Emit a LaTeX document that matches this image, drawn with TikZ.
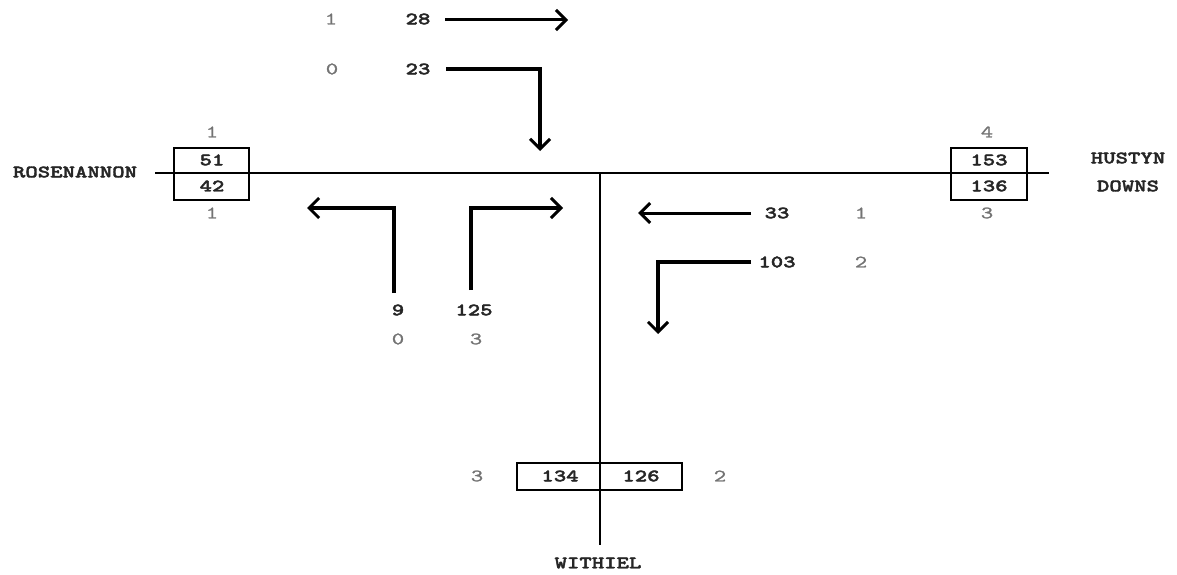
\documentclass[tikz,border=0pt]{standalone}
\usepackage{fontspec}
\usetikzlibrary{arrows.meta}
\newfontfamily\numfont{lmmonolt10-bold}[Extension=.otf,FakeStretch=1.35,FakeBold=2.2]
\newfontfamily\cntfont{lmmono10-regular}[Extension=.otf,FakeStretch=1.35,FakeBold=1.2]
\definecolor{cntgray}{RGB}{115,115,115}
\begin{document}
\begin{tikzpicture}[x=1pt,y=-1pt,
  num/.style={font=\numfont\fontsize{17.5}{17.5}\selectfont, text=black!85, inner sep=0pt},
  cnt/.style={font=\cntfont\fontsize{17.5}{17.5}\selectfont, text=cntgray, inner sep=0pt},
  road/.style={line width=2pt},
  boxline/.style={line width=2.8pt},
  move/.style={line width=3pt, -{Straight Barb[length=10pt,width=20pt,line width=3pt]}},
  turn/.style={line width=4.5pt, -{Straight Barb[length=10pt,width=20pt,line width=3pt]}}]
\useasboundingbox (0,0) rectangle (1177,575);
% roads
\coordinate (rl) at (155,173);
\coordinate (rr) at (1049,173);
\coordinate (jn) at (600,173);
\coordinate (vb) at (600,545);
\draw[road] (rl) -- (rr);
\draw[road] (jn) -- (vb);
% boxes
\draw[boxline] (174,148) rectangle (249,200);
\draw[boxline] (951,148) rectangle (1027,200);
\draw[boxline] (517,463) rectangle (682,490);
% names
\node[num] (ros) at (75,172) {ROSENANNON};
\node[num] (hus1) at (1128,158) {HUSTYN};
\node[num] (hus2) at (1128,186) {DOWNS};
\node[num] (wit) at (598,563) {WITHIEL};
% Rosenannon box
\node[num] (r51) at (212,160) {51};
\node[num] (r42) at (212,186) {42};
\node[cnt] (rc1) at (212,132) {1};
\node[cnt] (rc2) at (212,213) {1};
% Hustyn box
\node[num] (h153) at (989,160) {153};
\node[num] (h136) at (989,186) {136};
\node[cnt] (hc1) at (987,132) {4};
\node[cnt] (hc2) at (987,213) {3};
% Withiel box
\node[num] (w134) at (560,476) {134};
\node[num] (w126) at (641,476) {126};
\node[cnt] (wc1) at (477,476) {3};
\node[cnt] (wc2) at (720,476) {2};
% top movements
\node[cnt] (c28) at (331,19) {1};
\node[num] (n28) at (418,19) {28};
\node[cnt] (c23) at (332,69) {0};
\node[num] (n23) at (418,69) {23};
\coordinate (a28s) at (445,20);
\coordinate (a28e) at (568,20);
\draw[move] (a28s) -- (a28e);
\coordinate (a23s) at (446,69);
\coordinate (a23c) at (540,69);
\coordinate (a23e) at (540,151);
\draw[turn] (a23s) -- (a23c) -- (a23e);
% left-bottom movements
\node[num] (n9) at (398,310) {9};
\node[cnt] (c9) at (398,339) {0};
\node[num] (n125) at (474,310) {125};
\node[cnt] (c125) at (476,339) {3};
\coordinate (a9s) at (394,293);
\coordinate (a9c) at (394,208);
\coordinate (a9e) at (307,208);
\draw[turn] (a9s) -- (a9c) -- (a9e);
\coordinate (a125s) at (471,290);
\coordinate (a125c) at (471,208);
\coordinate (a125e) at (563,208);
\draw[turn] (a125s) -- (a125c) -- (a125e);
% right movements
\node[num] (n33) at (777,213) {33};
\node[cnt] (c33) at (861,213) {1};
\node[num] (n103) at (777,262) {103};
\node[cnt] (c103) at (861,262) {2};
\coordinate (a33s) at (751,213);
\coordinate (a33e) at (638,213);
\draw[move] (a33s) -- (a33e);
\coordinate (a103s) at (751,262);
\coordinate (a103c) at (658,262);
\coordinate (a103e) at (658,334);
\draw[turn] (a103s) -- (a103c) -- (a103e);
\end{tikzpicture}
\end{document}
